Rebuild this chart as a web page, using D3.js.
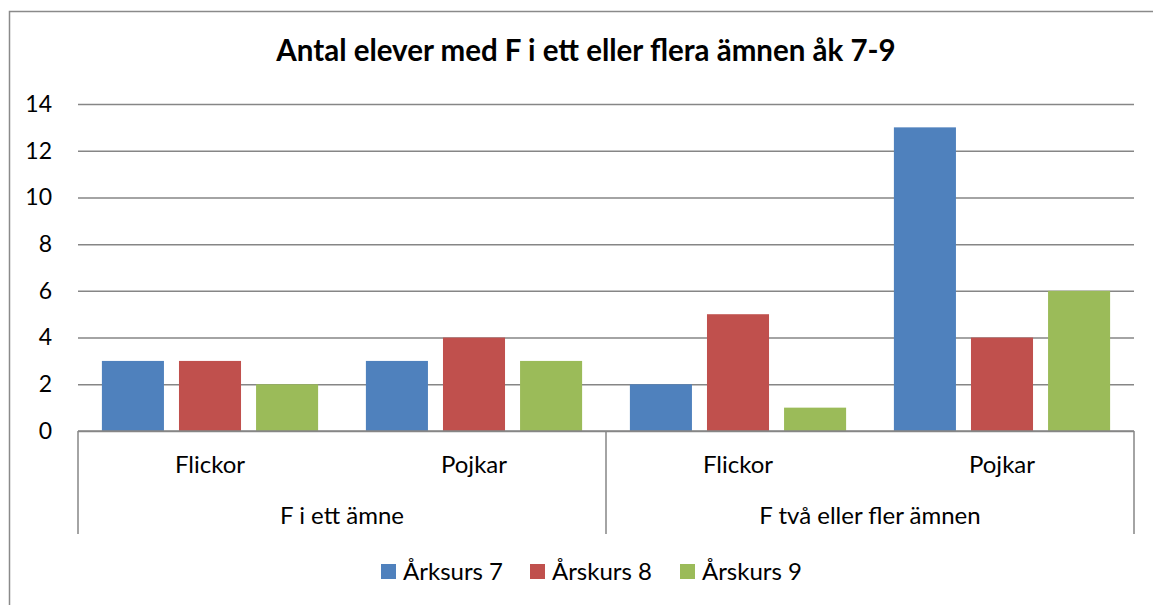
<!DOCTYPE html>
<html>
<head>
<meta charset="utf-8">
<script src="https://cdn.jsdelivr.net/npm/d3@7"></script>
<style>
  html, body { margin: 0; padding: 0; background: #fff; }
  svg { display: block; font-family: Lato, "Liberation Sans", sans-serif; }
</style>
</head>
<body>
<script>
const groups = ["F i ett ämne", "F två eller fler ämnen"];
const subgroups = ["Flickor", "Pojkar"];
const seriesNames = ["Årksurs 7", "Årskurs 8", "Årskurs 9"];
const arskurs7 = [3, 3, 2, 13];
const arskurs8 = [3, 4, 5, 4];
const arskurs9 = [2, 3, 1, 6];
const yTicks = [0, 2, 4, 6, 8, 10, 12, 14];
const colors = ["#4F81BD", "#C0504D", "#9BBB59"];

const w = 1153, h = 605;
const plotLeft = 78, plotRight = 1134, plotTop = 104, plotBottom = 431, axisBottomY = 534;
const labelSize = 24;

// one row per inner category
const cats = [];
groups.forEach((g) => subgroups.forEach((s) => cats.push(g + "|" + s)));
const values = [arskurs7, arskurs8, arskurs9];

const svg = d3.select("body").append("svg").attr("width", w).attr("height", h);

// chart border
svg.append("rect")
  .attr("x", 9.5).attr("y", 11.5)
  .attr("width", 1300).attr("height", 800)
  .attr("fill", "none").attr("stroke", "#8a8a8a").attr("stroke-width", 1.5);

svg.append("text")
  .attr("x", 586).attr("y", 61)
  .attr("text-anchor", "middle")
  .attr("font-weight", "bold")
  .attr("font-size", 29.5)
  .attr("fill", "#000")
  .text("Antal elever med F i ett eller flera ämnen åk 7-9");

const y = d3.scaleLinear().domain([0, 14]).range([plotBottom, plotTop]);
const x0 = d3.scaleBand().domain(cats).range([plotLeft, plotRight]);
const x1 = d3.scaleBand().domain(seriesNames).range([0, x0.bandwidth()])
  .paddingInner(0.195).paddingOuter(0.31);
const xg = d3.scaleBand().domain(groups).range([plotLeft, plotRight]);

// gridlines + y labels
const yAxis = d3.axisLeft(y).tickValues(yTicks).tickSize(-(plotRight - plotLeft)).tickPadding(26);
const gy = svg.append("g").attr("transform", `translate(${plotLeft},0)`).call(yAxis);
gy.select(".domain").remove();
gy.selectAll(".tick line").attr("stroke", "#868686").attr("stroke-width", 1.5);
gy.selectAll(".tick text").attr("font-size", 23).attr("fill", "#000")
  .attr("font-family", "Lato, sans-serif");

// bars
seriesNames.forEach((name, si) => {
  svg.append("g").selectAll("rect")
    .data(values[si])
    .join("rect")
    .attr("x", (d, i) => x0(cats[i]) + x1(name))
    .attr("y", (d) => y(d))
    .attr("width", x1.bandwidth())
    .attr("height", (d) => y(0) - y(d))
    .attr("fill", colors[si]);
});

// category axis
const ax = svg.append("g").attr("stroke", "#868686").attr("stroke-width", 1.5);
ax.append("line").attr("x1", plotLeft).attr("x2", plotRight).attr("y1", plotBottom).attr("y2", plotBottom);
[plotLeft, xg(groups[1]), plotRight].forEach((xx) => {
  ax.append("line").attr("x1", xx).attr("x2", xx).attr("y1", plotBottom).attr("y2", axisBottomY);
});

svg.append("g").selectAll("text")
  .data(cats)
  .join("text")
  .attr("x", (d) => x0(d) + x0.bandwidth() / 2)
  .attr("y", 473)
  .attr("text-anchor", "middle")
  .attr("font-size", labelSize)
  .text((d) => d.split("|")[1]);

svg.append("g").selectAll("text")
  .data(groups)
  .join("text")
  .attr("x", (d) => xg(d) + xg.bandwidth() / 2)
  .attr("y", 524)
  .attr("text-anchor", "middle")
  .attr("font-size", labelSize)
  .text((d) => d);

// legend
const legendX = [381, 530, 680];
const lg = svg.append("g").selectAll("g")
  .data(seriesNames)
  .join("g")
  .attr("transform", (d, i) => `translate(${legendX[i]},564)`);
lg.append("rect").attr("width", 15).attr("height", 15).attr("fill", (d, i) => colors[i]);
lg.append("text").attr("x", 22).attr("y", 16).attr("font-size", labelSize).text((d) => d);
</script>
</body>
</html>
